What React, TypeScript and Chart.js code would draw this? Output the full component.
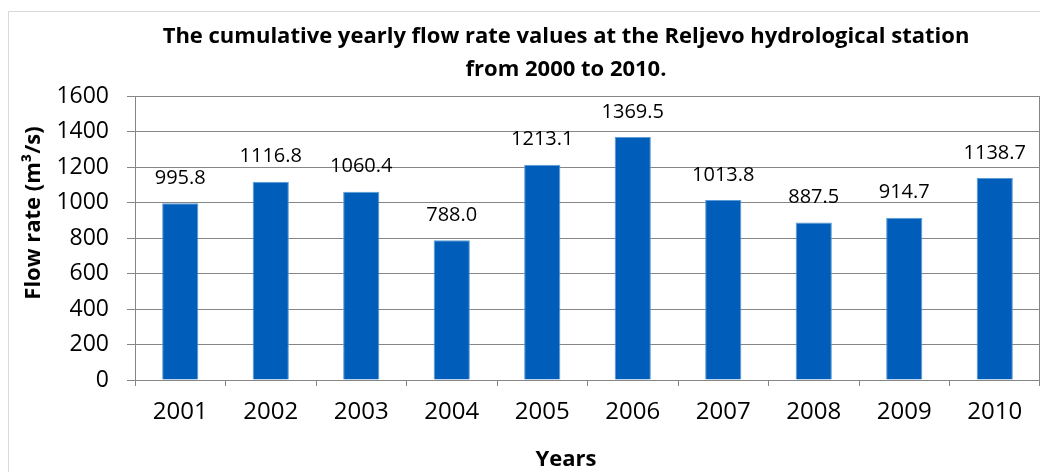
import React, { useEffect, useRef } from "react";
import { Chart, registerables } from "chart.js";

Chart.register(...registerables);

const years: string[] = ["2001", "2002", "2003", "2004", "2005", "2006", "2007", "2008", "2009", "2010"];
const flowRates: number[] = [995.8, 1116.8, 1060.4, 788.0, 1213.1, 1369.5, 1013.8, 887.5, 914.7, 1138.7];
const titleLines: string[] = [
  "The cumulative yearly flow rate values at the Reljevo hydrological station",
  "from 2000 to 2010.",
];
const yAxisTitle = "Flow rate (m³/s)";
const xAxisTitle = "Years";

const FONT = "'Open Sans', 'Noto Sans', sans-serif";

const decorPlugin = {
  id: "decor",
  beforeDraw(chart: any) {
    const ctx = chart.ctx;
    ctx.save();
    ctx.strokeStyle = "#d9d9d9";
    ctx.lineWidth = 1;
    ctx.beginPath();
    ctx.moveTo(0.5, chart.height);
    ctx.lineTo(0.5, 3.5);
    ctx.lineTo(chart.width, 3.5);
    ctx.stroke();
    ctx.restore();
  },
  afterDraw(chart: any) {
    const ctx = chart.ctx;
    const area = chart.chartArea;
    const cx = 558;
    ctx.save();
    ctx.strokeStyle = "#868686";
    ctx.lineWidth = 1;
    ctx.beginPath();
    ctx.moveTo(area.right - 0.5, area.top);
    ctx.lineTo(area.right - 0.5, area.bottom + 6);
    ctx.stroke();

    ctx.fillStyle = "#000000";
    ctx.textAlign = "center";
    ctx.textBaseline = "alphabetic";
    ctx.font = `bold 22px ${FONT}`;
    ctx.fillText(titleLines[0], cx, 35);
    ctx.fillText(titleLines[1], cx, 68);

    ctx.fillText(xAxisTitle, cx, 458);

    ctx.save();
    ctx.translate(26, 205);
    ctx.rotate(-Math.PI / 2);
    ctx.textBaseline = "middle";
    ctx.fillText(yAxisTitle, 0, 0);
    ctx.restore();

    ctx.font = `20px ${FONT}`;
    ctx.textBaseline = "middle";
    const meta = chart.getDatasetMeta(0);
    meta.data.forEach((bar: any, i: number) => {
      ctx.fillText(flowRates[i].toFixed(1), bar.x, bar.y - 25);
    });
    ctx.restore();
  },
};

export default function App() {
  const canvasRef = useRef<HTMLCanvasElement | null>(null);

  useEffect(() => {
    if (!canvasRef.current) return;
    const chart = new Chart(canvasRef.current, {
      type: "bar",
      data: {
        labels: years,
        datasets: [
          {
            data: flowRates,
            backgroundColor: "#005DB9",
            borderColor: "#5B9BD5",
            borderWidth: 1,
            barPercentage: 0.8,
            categoryPercentage: 0.5,
          },
        ],
      },
      options: {
        animation: false,
        responsive: true,
        maintainAspectRatio: false,
        layout: { padding: { top: 88, left: 0, right: 0, bottom: 0 } },
        plugins: {
          legend: { display: false },
          title: { display: false },
          tooltip: { enabled: false },
        },
        scales: {
          x: {
            afterFit: (scale: any) => {
              scale.height = 92;
            },
            grid: {
              offset: true,
              drawOnChartArea: false,
              drawTicks: true,
              tickLength: 6,
              color: "#868686",
            },
            border: { color: "#868686", width: 1 },
            ticks: {
              color: "#000000",
              font: { family: FONT, size: 24 },
              padding: 12,
              maxRotation: 0,
            },
          },
          y: {
            min: 0,
            max: 1600,
            afterFit: (scale: any) => {
              scale.width = 127;
            },
            grid: {
              color: "#868686",
              drawTicks: true,
              tickLength: 8,
            },
            border: { color: "#868686", width: 1 },
            ticks: {
              stepSize: 200,
              color: "#000000",
              font: { family: FONT, size: 23 },
              padding: 18,
              callback: (value: any) => String(value),
            },
          },
        },
      },
      plugins: [decorPlugin],
    });
    return () => chart.destroy();
  }, []);

  return (
    <div style={{ position: "relative", width: "100%", height: 464 }}>
      <canvas ref={canvasRef} />
    </div>
  );
}
